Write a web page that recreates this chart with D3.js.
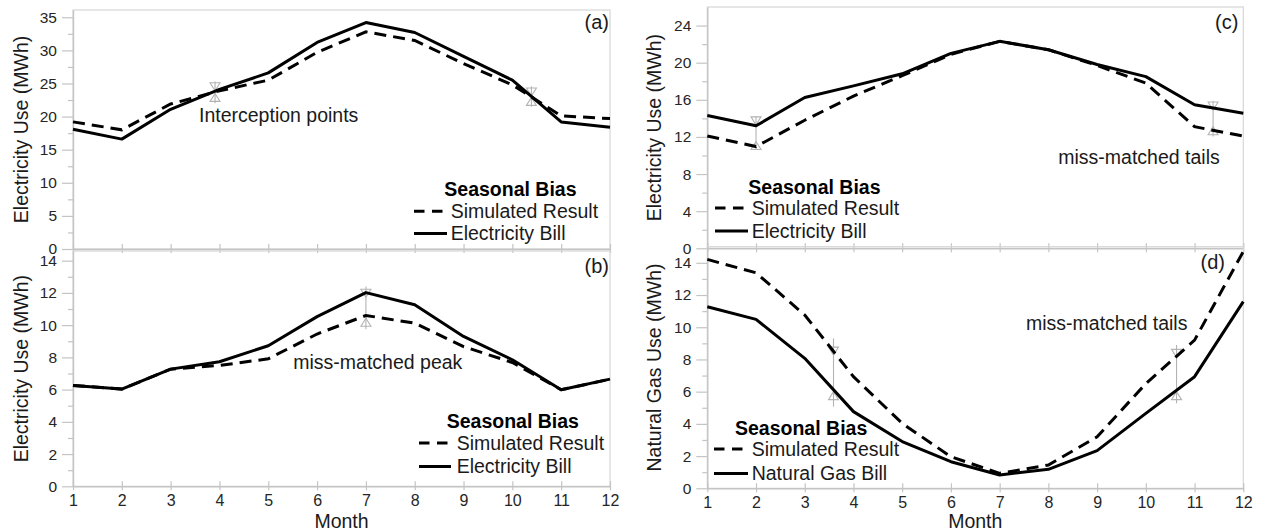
<!DOCTYPE html>
<html>
<head>
<meta charset="utf-8">
<script src="https://cdn.jsdelivr.net/npm/d3@7"></script>
<style>
  html, body { margin: 0; padding: 0; background: #fff; }
  svg { display: block; }
  text { font-family: "Liberation Sans", Arial, sans-serif; }
</style>
</head>
<body>
<svg id="chart" width="1261" height="531"></svg>
<script>
// ---------------- data ----------------
const months = [1, 2, 3, 4, 5, 6, 7, 8, 9, 10, 11, 12];

const aSimulated = [19.2, 18.0, 21.9, 23.9, 25.5, 29.7, 32.8, 31.5, 28.0, 24.8, 20.1, 19.7];
const aBill      = [18.1, 16.6, 21.1, 24.1, 26.6, 31.2, 34.2, 32.7, 29.1, 25.5, 19.2, 18.4];

const bSimulated = [6.26, 6.03, 7.27, 7.50, 7.91, 9.45, 10.60, 10.12, 8.67, 7.68, 5.99, 6.65];
const bBill      = [6.26, 6.03, 7.27, 7.73, 8.72, 10.53, 12.02, 11.26, 9.30, 7.85, 5.99, 6.65];

const cSimulated = [12.1, 10.96, 13.8, 16.4, 18.6, 20.9, 22.3, 21.4, 19.7, 17.8, 13.1, 12.1];
const cBill      = [14.3, 13.2, 16.25, 17.5, 18.8, 21.0, 22.3, 21.4, 19.8, 18.5, 15.46, 14.56];

const dSimulated = [14.21, 13.38, 10.76, 6.93, 4.03, 1.96, 0.93, 1.45, 3.2, 6.5, 9.2, 14.7];
const dBill      = [11.27, 10.49, 8.07, 4.76, 2.9, 1.65, 0.83, 1.18, 2.34, 4.65, 6.93, 11.59];

// y tick labels (major) and minor ticks
const aTicks = [0, 5, 10, 15, 20, 25, 30, 35];
const aMinor = [2.5, 7.5, 12.5, 17.5, 22.5, 27.5, 32.5];
const bTicks = [0, 2, 4, 6, 8, 10, 12, 14];
const bMinor = [1, 3, 5, 7, 9, 11, 13];
const cTicks = [0, 4, 8, 12, 16, 20, 24];
const cMinor = [2, 6, 10, 14, 18, 22];
const dTicks = [0, 2, 4, 6, 8, 10, 12, 14];
const dMinor = [1, 3, 5, 7, 9, 11, 13];

// gap markers: month position, line ends, arrow tips
const aMarkMonth = [3.91, 10.39];
const aMarkTop   = [25.3, 24.6];
const aMarkBot   = [22.0, 21.5];
const aTipTop    = [23.9, 23.1];
const aTipBot    = [23.5, 22.9];

const bMarkMonth = [7];
const bMarkTop   = [12.39];
const bMarkBot   = [9.75];
const bTipTop    = [11.73];
const bTipBot    = [10.43];

const cMarkMonth = [2, 11.38];
const cMarkTop   = [14.2, 15.9];
const cMarkBot   = [10.6, 12.04];
const cTipTop    = [13.3, 14.9];
const cTipBot    = [11.5, 13.1];

const dMarkMonth = [3.59, 10.63];
const dMarkTop   = [9.31, 8.9];
const dMarkBot   = [5.07, 5.28];
const dTipTop    = [8.27, 8.13];
const dTipBot    = [6.0, 6.0];

const legendTitle = "Seasonal Bias";
const simLabel = "Simulated Result";
const elecLabel = "Electricity Bill";
const gasLabel = "Natural Gas Bill";
const elecAxis = "Electricity Use (MWh)";
const gasAxis = "Natural Gas Use (MWh)";
const xTitle = "Month";

// ---------------- layout ----------------
const panels = [
  { sim: aSimulated, bill: aBill, ticks: aTicks, minor: aMinor, yMax: 36.1,
    x0: 73, x1: 610, top: 10, bottom: 249, showX: false,
    yTitle: elecAxis, yTitleX: 28, label: "(a)", labelX: 609, labelY: 29,
    marks: [aMarkMonth, aMarkTop, aMarkBot, aTipTop, aTipBot],
    note: "Interception points", noteX: 199, noteY: 121.5,
    leg: { tx: 444.3, ty: 196, rx: 450.7, r1: 217.7, r2: 240, s0: 414, s1: 443, s2: 447, billLabel: elecLabel } },
  { sim: bSimulated, bill: bBill, ticks: bTicks, minor: bMinor, yMax: 14.6,
    x0: 73, x1: 610, top: 251, bottom: 486.3, showX: true, xTitleY: 527.5,
    yTitle: elecAxis, yTitleX: 28, label: "(b)", labelX: 609, labelY: 273,
    marks: [bMarkMonth, bMarkTop, bMarkBot, bTipTop, bTipBot],
    note: "miss-matched peak", noteX: 293.3, noteY: 369,
    leg: { tx: 446.7, ty: 428, rx: 456.7, r1: 449.5, r2: 473, s0: 419, s1: 449, s2: 451, billLabel: elecLabel } },
  { sim: cSimulated, bill: cBill, ticks: cTicks, minor: cMinor, yMax: 26.0,
    x0: 707.3, x1: 1243.3, top: 7, bottom: 248.3, showX: false,
    yTitle: elecAxis, yTitleX: 661, label: "(c)", labelX: 1238.3, labelY: 29,
    marks: [cMarkMonth, cMarkTop, cMarkBot, cTipTop, cTipBot],
    note: "miss-matched tails", noteX: 1058.3, noteY: 164,
    leg: { tx: 748.3, ty: 194, rx: 751.7, r1: 214.5, r2: 237.5, s0: 715, s1: 746, s2: 748, billLabel: elecLabel } },
  { sim: dSimulated, bill: dBill, ticks: dTicks, minor: dMinor, yMax: 15.0,
    x0: 707.3, x1: 1243.3, top: 246.7, bottom: 488.3, showX: true, xTitleY: 527.5,
    yTitle: gasAxis, yTitleX: 661, label: "(d)", labelX: 1225, labelY: 269,
    marks: [dMarkMonth, dMarkTop, dMarkBot, dTipTop, dTipBot],
    note: "miss-matched tails", noteX: 1026, noteY: 330,
    leg: { tx: 735, ty: 435, rx: 751.7, r1: 455.5, r2: 480, s0: 714, s1: 746, s2: 748, billLabel: gasLabel } }
];

const svg = d3.select("#chart");
const FRAME = "#d6d6d6";
const AXIS = "#c4c4c4";
const TICKTXT = "#262626";

panels.forEach(p => {
  const x = d3.scaleLinear().domain([1, 12]).range([p.x0, p.x1]);
  const y = d3.scaleLinear().domain([0, p.yMax]).range([p.bottom, p.top]);
  const g = svg.append("g");

  // frame
  g.append("rect")
    .attr("x", p.x0).attr("y", p.top)
    .attr("width", p.x1 - p.x0).attr("height", p.bottom - p.top)
    .attr("fill", "none").attr("stroke", FRAME).attr("stroke-width", 1.2);

  // minor y ticks
  const yMinorAxis = d3.axisLeft(y).tickValues(p.minor).tickSize(5).tickFormat("").tickSizeOuter(0);
  const gm = g.append("g").attr("transform", `translate(${p.x0},0)`).call(yMinorAxis);
  gm.select(".domain").remove();
  gm.selectAll("line").attr("stroke", AXIS).attr("stroke-width", 1.2);

  // major y ticks
  const yAxis = d3.axisLeft(y).tickValues(p.ticks).tickSize(11).tickPadding(5)
    .tickSizeOuter(0).tickFormat(d3.format("d"));
  const gy = g.append("g").attr("transform", `translate(${p.x0},0)`).call(yAxis);
  gy.select(".domain").attr("stroke", AXIS).attr("stroke-width", 1.4);
  gy.selectAll("line").attr("stroke", AXIS).attr("stroke-width", 1.2);
  gy.selectAll("text").attr("fill", TICKTXT).style("font-size", "15.5px")
    .style("font-family", '"Liberation Sans", Arial, sans-serif');

  // x axis
  const xAxis = d3.axisBottom(x).tickValues(months).tickSize(5).tickSizeOuter(0)
    .tickFormat(p.showX ? d3.format("d") : "");
  const gx = g.append("g").attr("transform", `translate(0,${p.bottom})`).call(xAxis);
  gx.select(".domain").attr("stroke", AXIS).attr("stroke-width", 1.4);
  gx.selectAll("line").attr("stroke", AXIS).attr("stroke-width", 1.2).attr("y1", -5).attr("y2", 4);
  gx.selectAll("text").attr("fill", TICKTXT).attr("y", 20).attr("dy", 0)
    .style("font-size", "16px").style("font-family", '"Liberation Sans", Arial, sans-serif');
  if (!p.showX) gx.selectAll("text").remove();

  // y title
  g.append("text")
    .attr("transform", `translate(${p.yTitleX},${(p.top + p.bottom) / 2}) rotate(-90)`)
    .attr("text-anchor", "middle").attr("fill", "#1a1a1a")
    .style("font-size", "19.5px").text(p.yTitle);

  if (p.showX) {
    g.append("text").attr("x", (p.x0 + p.x1) / 2).attr("y", p.xTitleY)
      .attr("text-anchor", "middle").attr("fill", "#1a1a1a")
      .style("font-size", "19.5px").text(xTitle);
  }

  // gap markers
  const [mm, mt, mb, tt, tb] = p.marks;
  mm.forEach((m, i) => {
    const cx = x(m);
    const mk = g.append("g").attr("fill", "none").attr("stroke", "#b3b3b3").attr("stroke-width", 1.1);
    mk.append("line").attr("x1", cx).attr("x2", cx).attr("y1", y(mt[i])).attr("y2", y(mb[i]));
    const a = y(tt[i]), b = y(tb[i]);
    mk.append("path").attr("d", `M${cx - 5},${a - 8}L${cx + 5},${a - 8}L${cx},${a}Z`);
    mk.append("path").attr("d", `M${cx - 5},${b + 8}L${cx + 5},${b + 8}L${cx},${b}Z`);
  });

  // lines
  const line = d3.line().x((d, i) => x(months[i])).y(d => y(d));
  g.append("path").datum(p.sim).attr("d", line)
    .attr("fill", "none").attr("stroke", "#000").attr("stroke-width", 3)
    .attr("stroke-dasharray", "12,7");
  g.append("path").datum(p.bill).attr("d", line)
    .attr("fill", "none").attr("stroke", "#000").attr("stroke-width", 3)
    .attr("stroke-linejoin", "round");

  // panel label
  g.append("text").attr("x", p.labelX).attr("y", p.labelY).attr("text-anchor", "end")
    .attr("fill", "#1a1a1a").style("font-size", "20px").text(p.label);

  // annotation
  g.append("text").attr("x", p.noteX).attr("y", p.noteY)
    .attr("fill", "#1a1a1a").style("font-size", "19.5px").text(p.note);

  // legend
  const L = p.leg;
  g.append("text").attr("x", L.tx).attr("y", L.ty).attr("fill", "#000")
    .style("font-size", "19.5px").style("font-weight", "bold").text(legendTitle);
  g.append("line").attr("x1", L.s0).attr("x2", L.s1).attr("y1", L.r1 - 6.5).attr("y2", L.r1 - 6.5)
    .attr("stroke", "#000").attr("stroke-width", 3).attr("stroke-dasharray", "10.5,7.5");
  g.append("text").attr("x", L.rx).attr("y", L.r1).attr("fill", "#1a1a1a")
    .style("font-size", "19.5px").text(simLabel);
  g.append("line").attr("x1", L.s0).attr("x2", L.s2).attr("y1", L.r2 - 6.5).attr("y2", L.r2 - 6.5)
    .attr("stroke", "#000").attr("stroke-width", 3);
  g.append("text").attr("x", L.rx).attr("y", L.r2).attr("fill", "#1a1a1a")
    .style("font-size", "19.5px").text(L.billLabel);
});
</script>
</body>
</html>
